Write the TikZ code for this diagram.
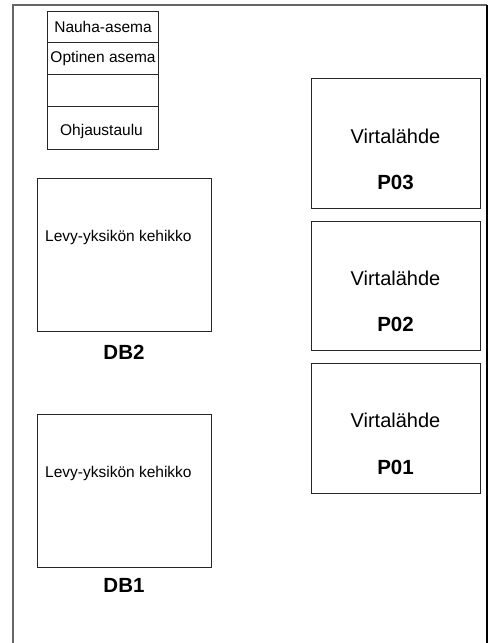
\documentclass[tikz,border=0pt]{standalone}
\usepackage{fontspec}
\setmainfont{Liberation Sans}
\begin{document}
\begin{tikzpicture}[x=1bp,y=-1bp,
  box/.style={draw=black!85,line width=1bp,inner sep=0pt,anchor=north west},
  lbl/.style={inner sep=0pt,font=\fontsize{15.5bp}{18bp}\selectfont},
  vlbl/.style={inner sep=0pt,font=\fontsize{20bp}{23bp}\selectfont},
  blbl/.style={inner sep=0pt,font=\fontsize{20.5bp}{23bp}\selectfont\bfseries}]
\useasboundingbox (0,0) rectangle (489,643);
% outer frame (open at the bottom)
\draw[line width=1.2bp,black!60] (13,643) -- (13,5) -- (487,5);
\draw[line width=1.2bp,black] (487,5) -- (487,643);
% drive stack
\node[box,minimum width=111bp,minimum height=31bp] (nauha) at (47,11) {};
\node[box,minimum width=111bp,minimum height=32bp] (opt) at (47,42) {};
\node[box,minimum width=111bp,minimum height=32bp] (empty) at (47,74) {};
\node[box,minimum width=111bp,minimum height=43bp] (ohj) at (47,106) {};
\node[lbl] (tnauha) at (nauha.center) {Nauha-asema};
\node[lbl] (topt) at (opt.center) {Optinen asema};
\node[lbl] (tohj) at (101.5,131) {Ohjaustaulu};
% disk unit frames
\node[box,minimum width=174bp,minimum height=153bp] (db2) at (37,178) {};
\node[lbl,anchor=west] (tdb2) at (45,237) {Levy-yksikön kehikko};
\node[blbl] (ldb2) at (124,352) {DB2};
\node[box,minimum width=174bp,minimum height=153bp] (db1) at (37,414) {};
\node[lbl,anchor=west] (tdb1) at (45,473) {Levy-yksikön kehikko};
\node[blbl] (ldb1) at (124,585) {DB1};
% power supplies
\node[box,minimum width=169bp,minimum height=130bp] (p03) at (311,78) {};
\node[vlbl] (tp03) at (395.5,136) {Virtalähde};
\node[blbl] (lp03) at (395.5,182) {P03};
\node[box,minimum width=169bp,minimum height=129bp] (p02) at (311,221) {};
\node[vlbl] (tp02) at (395.5,278) {Virtalähde};
\node[blbl] (lp02) at (395.5,324) {P02};
\node[box,minimum width=169bp,minimum height=130bp] (p01) at (311,363) {};
\node[vlbl] (tp01) at (395.5,420) {Virtalähde};
\node[blbl] (lp01) at (395.5,467) {P01};
\end{tikzpicture}
\end{document}
